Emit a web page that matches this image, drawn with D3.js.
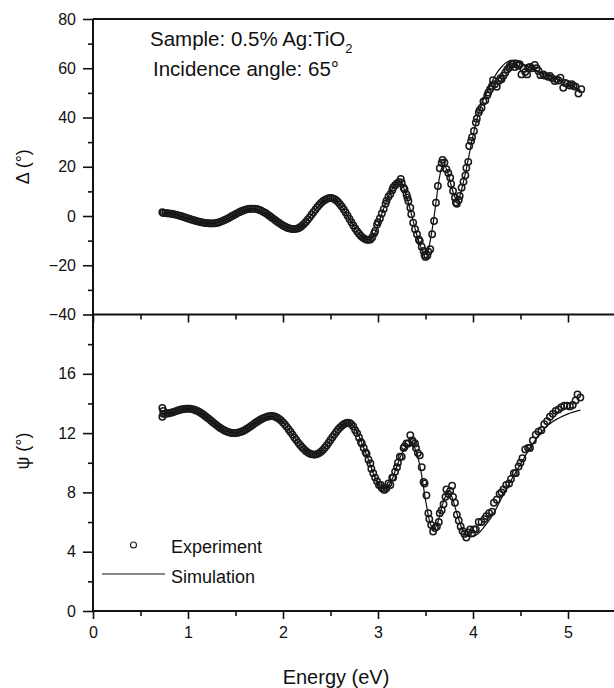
<!DOCTYPE html>
<html>
<head>
<meta charset="utf-8">
<script src="https://cdn.jsdelivr.net/npm/d3@7"></script>
<style>
  html, body { margin: 0; padding: 0; background: #fff; }
  svg { display: block; }
  text { font-family: "Liberation Sans", Arial, Helvetica, sans-serif; fill: #111; }
</style>
</head>
<body>
<svg id="chart" width="614" height="688"></svg>
<script>
// ---------------- DATA ----------------
// Delta (upper panel) experiment
const deltaExpE = [0.73,
  0.74,0.76,0.78,0.80,0.82,0.84,0.86,0.88,0.90,0.92,0.94,0.96,0.98,1.00,1.02,1.04,1.06,1.08,1.10,1.12,
  1.14,1.16,1.18,1.20,1.22,1.24,1.26,1.28,1.30,1.32,1.34,1.36,1.38,1.40,1.42,1.44,1.46,1.48,1.50,1.52,
  1.54,1.56,1.58,1.60,1.62,1.64,1.66,1.68,1.70,1.72,1.74,1.76,1.78,1.80,1.82,1.84,1.86,1.88,1.90,1.92,
  1.94,1.96,1.98,2.00,2.02,2.04,2.06,2.08,2.10,2.12,2.14,2.16,2.18,2.20,2.22,2.24,2.26,2.28,2.30,2.32,
  2.34,2.36,2.38,2.40,2.42,2.44,2.46,2.48,2.50,2.52,2.54,2.56,2.58,2.60,2.62,2.64,2.66,2.68,2.70,2.72,
  2.74,2.76,2.78,2.80,2.82,2.84,2.86,2.88,2.90,
  2.92,2.94,2.96,2.97,2.99,3.00,3.02,3.04,3.06,3.08,3.09,3.11,3.13,3.15,3.16,3.18,3.20,3.22,3.24,3.25,
  3.27,3.28,3.30,3.31,3.32,3.34,3.35,3.37,3.39,3.41,3.43,3.44,3.46,3.48,3.49,3.50,3.52,3.53,3.55,3.57,
  3.59,3.61,3.63,3.65,3.67,3.68,3.70,3.72,3.74,3.76,3.77,3.79,3.81,3.82,3.83,3.85,3.86,3.88,3.90,3.92,
  3.93,3.95,3.96,3.98,3.99,4.01,4.03,4.04,4.06,4.07,4.09,4.11,4.13,4.15,4.16,4.18,4.20,4.21,4.23,4.25,
  4.27,4.29,4.30,4.32,4.34,4.36,4.38,4.39,4.41,4.42,4.44,4.46,4.48,4.49,4.51,4.53,4.55,4.57,4.58,4.60,
  4.62,4.65,4.67,4.69,4.71,4.74,4.76,4.79,4.81,4.83,4.86,4.88,4.90,4.92,4.95,4.97,4.99,5.02,5.04,5.06,
  5.08,5.11,5.14];
const deltaExpV = [1.5,
  1.2,1.18,1.14,1.06,0.95,0.81,0.65,0.47,0.26,0.04,-0.20,-0.45,-0.71,-0.97,-1.22,-1.48,-1.72,-1.95,-2.17,-2.36,
  -2.54,-2.69,-2.81,-2.90,-2.96,-3.00,-2.99,-2.93,-2.80,-2.62,-2.37,-2.08,-1.75,-1.37,-0.97,-0.55,-0.11,0.33,0.76,1.17,
  1.56,1.92,2.24,2.50,2.72,2.87,2.97,3.00,2.96,2.83,2.63,2.34,1.99,1.57,1.09,0.57,0.02,-0.56,-1.15,-1.74,
  -2.32,-2.87,-3.39,-3.87,-4.29,-4.64,-4.93,-5.13,-5.26,-5.30,-5.21,-4.96,-4.54,-3.97,-3.27,-2.45,-1.53,-0.54,0.48,1.52,
  2.54,3.53,4.45,5.27,5.97,6.54,6.96,7.21,7.30,7.20,6.88,6.37,5.68,4.81,3.80,2.66,1.43,0.13,-1.20,-2.53,
  -3.83,-5.06,-6.20,-7.21,-8.08,-8.77,-9.28,-9.60,-9.70,
  -9.5,-8.6,-7.0,-6.1,-3.5,-2.5,-1.0,1.0,2.8,5.0,6.2,7.8,8.9,10.5,11.6,12.5,13.2,13.8,15.0,13.5,
  11.5,10.8,8.8,7.5,6.1,3.4,0.7,-2.7,-5.4,-7.4,-9.5,-10.2,-12.5,-14.2,-15.8,-16.6,-16.0,-14.5,-13.5,-7.4,
  -2.0,5.4,12.2,19.4,21.5,22.8,21.7,19.0,17.5,15.6,13.0,10.2,7.4,5.5,5.0,6.5,8.1,11.5,13.9,16.5,
  19.5,22.0,28.4,30.5,32.0,34.5,38.0,39.5,42.0,43.0,44.0,46.5,47.0,49.0,50.1,51.5,52.8,55.1,53.5,52.5,
  54.8,56.0,55.5,57.0,58.2,59.5,60.2,60.9,61.5,61.6,60.5,61.8,61.0,61.6,57.5,59.8,58.5,57.5,60.2,60.5,
  60.0,61.3,60.0,58.9,57.2,57.5,57.0,56.5,56.9,56.0,54.8,55.5,55.0,56.2,52.1,54.0,53.7,53.0,53.5,52.8,
  52.5,49.7,51.5];

// Delta simulation
const deltaSimE = [0.73,0.80,0.90,1.00,1.10,1.20,1.25,1.30,1.40,1.50,1.60,1.68,1.76,1.84,1.90,2.00,2.06,2.12,2.18,2.24,
  2.30,2.36,2.42,2.50,2.56,2.62,2.70,2.78,2.84,2.90,2.95,3.00,3.05,3.10,3.15,3.20,3.23,3.26,3.30,3.35,
  3.40,3.45,3.49,3.52,3.55,3.58,3.61,3.64,3.67,3.70,3.73,3.77,3.80,3.83,3.86,3.90,3.94,3.98,4.02,4.06,
  4.10,4.15,4.20,4.25,4.30,4.35,4.40,4.44,4.48,4.55,4.62,4.70,4.80,4.90,5.00,5.10,5.13];
const deltaSimV = [1.2,1.06,0.26,-0.97,-2.17,-2.9,-3.0,-2.8,-1.37,0.76,2.5,3.0,2.34,0.57,-1.15,-3.87,-4.93,-5.3,-4.54,-2.45,
  0.48,3.53,5.97,7.3,6.37,3.8,-1.2,-6.2,-8.77,-9.7,-8.3,-3.5,2.0,7.0,11.0,13.8,14.0,12.5,8.0,1.0,
  -6.5,-12.5,-15.5,-15.0,-10.0,-3.0,5.5,14.0,19.5,20.5,18.0,12.5,8.5,6.5,8.0,14.0,21.0,29.0,36.0,42.0,
  46.5,50.5,54.5,58.0,60.5,62.3,63.2,63.3,62.7,61.2,60.0,58.5,57.0,55.3,53.5,51.8,51.2];

// Psi (lower panel) experiment
const psiExpE = [0.73,0.73,0.74,
  0.74,0.76,0.78,0.80,0.82,0.84,0.86,0.88,0.90,0.92,0.94,0.96,0.98,1.00,1.02,1.04,1.06,1.08,1.10,1.12,
  1.14,1.16,1.18,1.20,1.22,1.24,1.26,1.28,1.30,1.32,1.34,1.36,1.38,1.40,1.42,1.44,1.46,1.48,1.50,1.52,
  1.54,1.56,1.58,1.60,1.62,1.64,1.66,1.68,1.70,1.72,1.74,1.76,1.78,1.80,1.82,1.84,1.86,1.88,1.90,1.92,
  1.94,1.96,1.98,2.00,2.02,2.04,2.06,2.08,2.10,2.12,2.14,2.16,2.18,2.20,2.22,2.24,2.26,2.28,2.30,2.32,
  2.34,2.36,2.38,2.40,2.42,2.44,2.46,2.48,2.50,2.52,2.54,2.56,2.58,2.60,2.62,2.64,2.66,2.68,
  2.70,2.72,2.74,2.76,2.78,2.80,2.82,2.83,2.85,2.87,2.88,2.90,2.92,2.93,2.95,2.97,2.99,3.01,3.03,3.04,
  3.06,3.07,3.09,3.11,3.13,3.15,3.16,3.18,3.20,3.21,3.23,3.25,3.27,3.28,3.30,3.32,3.34,3.36,3.37,3.39,
  3.40,3.42,3.44,3.46,3.48,3.49,3.51,3.53,3.54,3.56,3.58,3.60,3.62,3.64,3.65,3.67,3.69,3.71,3.72,3.74,
  3.76,3.78,3.79,3.81,3.83,3.85,3.87,3.89,3.91,3.93,3.95,3.97,3.99,4.01,4.03,4.06,4.09,4.12,4.14,4.17,
  4.20,4.22,4.25,4.28,4.30,4.32,4.35,4.38,4.40,4.43,4.45,4.48,4.50,4.52,4.55,4.58,4.60,4.63,4.66,4.69,
  4.72,4.75,4.78,4.81,4.84,4.87,4.90,4.93,4.96,4.99,5.02,5.05,5.08,5.10,5.13];
const psiExpV = [13.1,13.7,13.5,
  13.30,13.31,13.32,13.34,13.38,13.41,13.45,13.50,13.54,13.57,13.61,13.63,13.65,13.65,13.64,13.62,13.59,13.54,13.49,13.42,
  13.34,13.25,13.16,13.06,12.96,12.85,12.74,12.64,12.54,12.44,12.35,12.27,12.19,12.13,12.08,12.04,12.01,12.00,12.00,12.02,
  12.05,12.09,12.14,12.21,12.29,12.37,12.46,12.55,12.65,12.74,12.82,12.90,12.97,13.03,13.08,13.12,13.14,13.15,13.14,13.10,
  13.04,12.95,12.85,12.72,12.58,12.42,12.25,12.08,11.90,11.71,11.54,11.36,11.20,11.05,10.92,10.80,10.70,10.63,10.58,10.55,
  10.55,10.59,10.65,10.75,10.86,11.01,11.17,11.35,11.53,11.72,11.90,12.08,12.24,12.38,12.50,12.60,12.66,12.70,
  12.68,12.6,12.45,12.2,12.0,11.7,11.4,11.3,11.0,10.7,10.6,10.2,9.95,9.6,9.3,9.0,8.75,8.5,8.5,8.3,
  8.2,8.18,8.3,8.6,8.5,9.0,9.0,9.4,9.7,10.0,10.4,10.4,11.0,11.1,11.3,11.3,11.85,11.5,11.4,11.3,
  11.0,10.65,10.5,9.7,8.7,8.6,7.8,6.6,6.2,5.8,5.36,5.6,5.7,6.0,6.6,6.8,7.2,7.7,8.2,7.9,
  8.1,8.45,7.7,7.3,6.5,6.1,5.7,5.4,5.2,4.95,5.3,5.5,5.25,5.5,5.5,6.0,6.0,6.2,6.4,6.6,
  6.7,7.3,7.5,7.9,8.0,8.2,8.5,8.6,8.9,9.3,9.3,9.75,10.0,10.3,10.9,11.0,11.0,11.5,11.9,12.1,
  12.2,12.6,12.8,13.1,13.3,13.5,13.6,13.75,13.85,13.85,13.8,13.9,14.2,14.6,14.4];

// Psi simulation
const psiSimE = [0.73,0.80,0.90,1.00,1.10,1.20,1.30,1.40,1.49,1.60,1.70,1.80,1.88,2.00,2.10,2.20,2.33,2.42,2.52,2.60,
  2.69,2.75,2.80,2.85,2.90,2.95,3.00,3.05,3.10,3.15,3.20,3.25,3.30,3.35,3.40,3.45,3.50,3.55,3.59,3.63,
  3.68,3.73,3.77,3.82,3.87,3.92,3.98,4.05,4.12,4.20,4.30,4.40,4.50,4.60,4.70,4.80,4.90,5.00,5.13];
const psiSimV = [13.3,13.34,13.54,13.65,13.49,13.06,12.54,12.13,12.0,12.21,12.65,13.03,13.15,12.72,11.9,11.05,10.55,10.86,11.72,12.38,
  12.7,12.4,11.8,11.0,10.2,9.3,8.6,8.25,8.35,8.9,9.8,10.6,11.1,11.2,10.8,9.5,7.5,5.9,5.5,6.0,
  7.2,7.9,7.8,6.8,5.8,5.2,5.0,5.2,5.7,6.4,7.6,8.8,9.9,11.0,11.9,12.6,13.0,13.3,13.55];

// Axis ticks / labels
const xMajor = [0,1,2,3,4,5];
const xMinor = [0.5,1.5,2.5,3.5,4.5,5.5];
const deltaMajor = [-40,-20,0,20,40,60,80];
const deltaMinor = [-30,-10,10,30,50,70];
const psiMajor = [0,4,8,12,16];
const psiMinor = [2,6,10,14,18];
const legendLabels = ["Experiment","Simulation"];

// ---------------- DRAW ----------------
const svg = d3.select("#chart");
const ink = "#111";

const x = d3.scaleLinear().domain([0, 5.5]).range([93, 615.5]);
const yTop = d3.scaleLinear().domain([-40, 80]).range([314.5, 19]);
const yBot = d3.scaleLinear().domain([0, 20]).range([611, 314.5]);

function styleAxis(g, showText) {
  g.select(".domain").remove();
  g.selectAll(".tick line").attr("stroke", ink).attr("stroke-width", 1.6);
  if (!showText) g.selectAll(".tick text").remove();
  else g.selectAll(".tick text").attr("fill", ink).style("font-size", "16px")
        .style("font-family", '"Liberation Sans", Arial, sans-serif');
}

// Left axes
svg.append("g").attr("transform", "translate(93,0)")
  .call(d3.axisLeft(yTop).tickValues(deltaMajor).tickSize(10).tickPadding(7).tickFormat(d3.format("d")))
  .call(g => styleAxis(g, true));
svg.append("g").attr("transform", "translate(93,0)")
  .call(d3.axisLeft(yTop).tickValues(deltaMinor).tickSize(5).tickFormat(""))
  .call(g => styleAxis(g, false));
svg.append("g").attr("transform", "translate(93,0)")
  .call(d3.axisLeft(yBot).tickValues(psiMajor).tickSize(10).tickPadding(7).tickFormat(d3.format("d")))
  .call(g => styleAxis(g, true));
svg.append("g").attr("transform", "translate(93,0)")
  .call(d3.axisLeft(yBot).tickValues(psiMinor).tickSize(5).tickFormat(""))
  .call(g => styleAxis(g, false));

// Bottom axis
svg.append("g").attr("transform", "translate(0,611)")
  .call(d3.axisBottom(x).tickValues(xMajor).tickSize(8).tickPadding(8).tickFormat(d3.format("d")))
  .call(g => styleAxis(g, true));
svg.append("g").attr("transform", "translate(0,611)")
  .call(d3.axisBottom(x).tickValues(xMinor).tickSize(5).tickFormat(""))
  .call(g => styleAxis(g, false));

// Middle shared boundary ticks (pointing down)
svg.append("g").attr("transform", "translate(0,314.5)")
  .call(d3.axisBottom(x).tickValues(xMajor).tickSize(8).tickFormat(""))
  .call(g => styleAxis(g, false));
svg.append("g").attr("transform", "translate(0,314.5)")
  .call(d3.axisBottom(x).tickValues(xMinor).tickSize(5).tickFormat(""))
  .call(g => styleAxis(g, false));

// Frame lines
const frame = svg.append("g").attr("stroke", ink).attr("stroke-width", 2).attr("fill", "none");
frame.append("line").attr("x1", 93).attr("x2", 93).attr("y1", yTop(80)).attr("y2", yBot(0));
frame.append("line").attr("x1", 93).attr("x2", 616).attr("y1", yTop(80)).attr("y2", yTop(80));
frame.append("line").attr("x1", 93).attr("x2", 616).attr("y1", yTop(-40)).attr("y2", yTop(-40));
frame.append("line").attr("x1", 93).attr("x2", 616).attr("y1", yBot(0)).attr("y2", yBot(0));

// Experiment points
function drawPoints(E, V, yScale) {
  svg.append("g").selectAll("circle").data(E.map((e, i) => [e, V[i]])).join("circle")
    .attr("cx", d => x(d[0])).attr("cy", d => yScale(d[1])).attr("r", 3.2)
    .attr("fill", "none").attr("stroke", "#1a1a1a").attr("stroke-width", 1.5);
}
drawPoints(deltaExpE, deltaExpV, yTop);
drawPoints(psiExpE, psiExpV, yBot);

// Simulation lines
function drawLine(E, V, yScale) {
  const line = d3.line().x(d => x(d[0])).y(d => yScale(d[1])).curve(d3.curveMonotoneX);
  svg.append("path").datum(E.map((e, i) => [e, V[i]])).attr("d", line)
    .attr("fill", "none").attr("stroke", "#111").attr("stroke-width", 1.2);
}
drawLine(deltaSimE, deltaSimV, yTop);
drawLine(psiSimE, psiSimV, yBot);

// Axis titles
svg.append("text").attr("transform", `translate(29,${(yTop(80)+yTop(-40))/2}) rotate(-90)`)
  .attr("text-anchor", "middle").style("font-size", "18px").text("Δ (°)");
svg.append("text").attr("transform", `translate(29,451) rotate(-90)`)
  .attr("text-anchor", "middle").style("font-size", "18px").text("ψ (°)");
svg.append("text").attr("x", 336).attr("y", 684).attr("text-anchor", "middle")
  .style("font-size", "20px").text("Energy (eV)");

// Annotation
const ann = svg.append("text").attr("x", 150).attr("y", 46).style("font-size", "20.5px");
ann.append("tspan").text("Sample: 0.5% Ag:TiO");
ann.append("tspan").attr("dy", 7).style("font-size", "13px").text("2");
svg.append("text").attr("x", 153).attr("y", 76).style("font-size", "20.5px").text("Incidence angle: 65°");

// Legend
svg.append("circle").attr("cx", 133.5).attr("cy", 545).attr("r", 3)
  .attr("fill", "none").attr("stroke", "#1a1a1a").attr("stroke-width", 1.1);
svg.append("text").attr("x", 171).attr("y", 553).style("font-size", "18px").text(legendLabels[0]);
svg.append("line").attr("x1", 102).attr("x2", 165).attr("y1", 574).attr("y2", 574)
  .attr("stroke", "#111").attr("stroke-width", 1.2);
svg.append("text").attr("x", 171).attr("y", 583).style("font-size", "18px").text(legendLabels[1]);
</script>
</body>
</html>
